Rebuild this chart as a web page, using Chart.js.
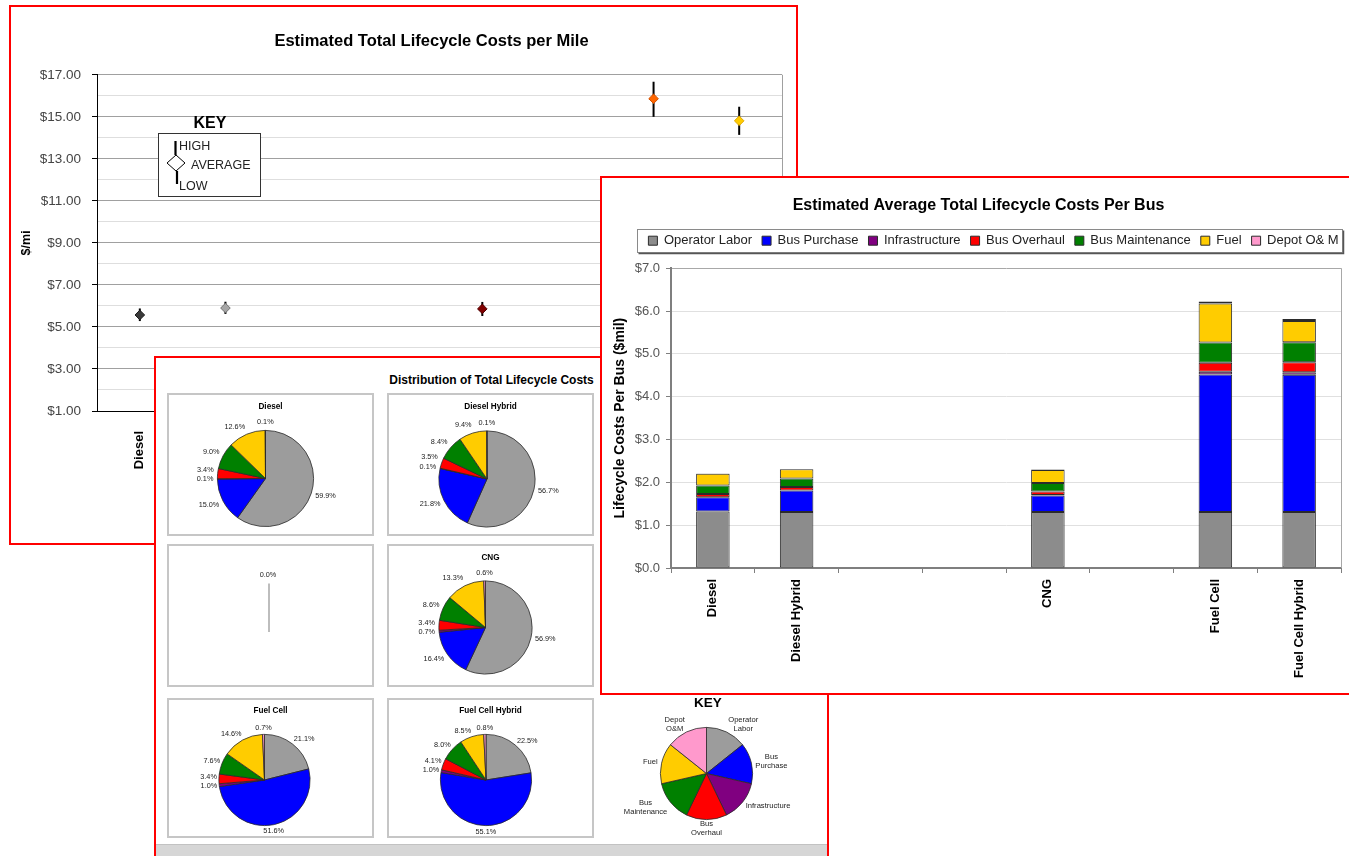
<!DOCTYPE html>
<html>
<head>
<meta charset="utf-8">
<title>Bus Lifecycle Costs</title>
<script src="https://cdn.jsdelivr.net/npm/chart.js@4.4.1/dist/chart.umd.min.js"></script>
<style>
  html, body { margin: 0; padding: 0; background: #fff; }
  body { position: relative; width: 1349px; height: 856px; overflow: hidden; font-family: "Liberation Sans", Arial, sans-serif; }
  .panel { position: absolute; box-sizing: border-box; border: 2px solid #ff0000; background: #fff; overflow: hidden; }
  .panel > canvas { position: absolute; }
  .pie-box { position: absolute; box-sizing: border-box; width: 207px; border: 2px solid #c6c6c6; background: #fff; }
  .pie-box canvas { position: absolute; left: 0; top: 0; }
  #distTitle { position: absolute; left: 0; top: 15px; width: 671px; text-align: center; font-weight: bold; font-size: 12px; line-height: 14px; color: #000; }
  #sheetBar { position: absolute; left: 0; top: 486px; width: 100%; height: 14px; background: #d6d6d6; border-top: 1px solid #c2c2c2; }
</style>
</head>
<body>

<div class="panel" style="left:9px; top:5px; width:789px; height:540px; z-index:1;">
  <canvas id="perMileChart" width="785" height="536" style="left:0; top:0;"></canvas>
</div>

<div class="panel" style="left:154px; top:356px; width:675px; height:510px; z-index:2;">
  <div id="distTitle">Distribution of Total Lifecycle Costs</div>
  <div class="pie-box" style="left:11px; top:35px; height:143px;"><canvas id="pieDiesel" width="203" height="139"></canvas></div>
  <div class="pie-box" style="left:231px; top:35px; height:143px;"><canvas id="pieDieselHybrid" width="203" height="139"></canvas></div>
  <div class="pie-box" style="left:11px; top:186px; height:143px;"><canvas id="pieEmpty" width="203" height="139"></canvas></div>
  <div class="pie-box" style="left:231px; top:186px; height:143px;"><canvas id="pieCNG" width="203" height="139"></canvas></div>
  <div class="pie-box" style="left:11px; top:340px; height:140px;"><canvas id="pieFuelCell" width="203" height="136"></canvas></div>
  <div class="pie-box" style="left:231px; top:340px; height:140px;"><canvas id="pieFuelCellHybrid" width="203" height="136"></canvas></div>
  <canvas id="pieKey" width="210" height="152" style="left:450px; top:334px;"></canvas>
  <div id="sheetBar"></div>
</div>

<div class="panel" style="left:600px; top:176px; width:780px; height:519px; z-index:3;">
  <canvas id="perBusChart" width="762" height="515" style="left:0; top:0;"></canvas>
</div>

<script>
// ---------- cost per mile ($/mi) ----------
const vehicleTypes    = ['Diesel', 'Diesel Hybrid', '', '', 'CNG', '', 'Fuel Cell', 'Fuel Cell Hybrid'];
const avgCostPerMile  = [5.57, 5.90, null, null, 5.86, null, 15.86, 14.81];
const highCostPerMile = [5.88, 6.20, null, null, 6.19, null, 16.67, 15.48];
const lowCostPerMile  = [5.28, 5.62, null, null, 5.52, null, 15.00, 14.14];
const perMileTickValues = [1, 3, 5, 7, 9, 11, 13, 15, 17];

// ---------- average lifecycle cost per bus ($ millions) ----------
const costComponents = ['Operator Labor', 'Bus Purchase', 'Infrastructure', 'Bus Overhaul', 'Bus Maintenance', 'Fuel', 'Depot O& M'];
const operatorLabor  = [1.32, 1.31, null, null, 1.31, null, 1.31, 1.31];
const busPurchase    = [0.33, 0.50, null, null, 0.38, null, 3.21, 3.20];
const infrastructure = [0.002, 0.002, null, null, 0.016, null, 0.062, 0.058];
const busOverhaul    = [0.075, 0.081, null, null, 0.078, null, 0.212, 0.238];
const busMaintenance = [0.198, 0.194, null, null, 0.198, null, 0.473, 0.465];
const fuelCost       = [0.277, 0.217, null, null, 0.306, null, 0.909, 0.494];
const depotOM        = [0.002, 0.002, null, null, 0.014, null, 0.044, 0.046];
const perBusTickMax  = 7;

// ---------- share of total lifecycle cost (%) ----------
const pieComponents       = ['Operator Labor', 'Bus Purchase', 'Infrastructure', 'Bus Overhaul', 'Bus Maintenance', 'Fuel', 'Depot O&M'];
const dieselShare         = [59.9, 15.0, 0.1, 3.4, 9.0, 12.6, 0.1];
const dieselHybridShare   = [56.7, 21.8, 0.1, 3.5, 8.4, 9.4, 0.1];
const unusedShare         = [0, 0, 0, 0, 0, 0, 0];
const cngShare            = [56.9, 16.4, 0.7, 3.4, 8.6, 13.3, 0.6];
const fuelCellShare       = [21.1, 51.6, 1.0, 3.4, 7.6, 14.6, 0.7];
const fuelCellHybridShare = [22.5, 55.1, 1.0, 4.1, 8.0, 8.5, 0.8];
const keyLabels = [['Operator', 'Labor'], ['Bus', 'Purchase'], ['Infrastructure'], ['Bus', 'Overhaul'], ['Bus', 'Maintenance'], ['Fuel'], ['Depot', 'O&M']];
const keyShare  = [1, 1, 1, 1, 1, 1, 1];

// ---------- styles ----------
const FONT = '"Liberation Sans", Arial, sans-serif';
Chart.defaults.font.family = FONT;
Chart.defaults.color = '#333';

const markerFill = ['#3a3a3a', '#a6a6a6', null, null, '#800000', null, '#ff6600', '#ffcc00'];
const markerEdge = ['#1a1a1a', '#707070', null, null, '#500000', null, '#d05000', '#e0a800'];
const barFill = ['#8c8c8c', '#0000ff', '#800080', '#ff0000', '#008000', '#ffcc00', '#ff99cc'];
const pieFill = ['#9c9c9c', '#0000ff', '#800080', '#ff0000', '#008000', '#ffcc00', '#ff99cc'];

// ---------- plugins ----------
// high/low whiskers drawn through the chart's own scales
const errorBars = {
  id: 'errorBars',
  beforeDatasetsDraw(chart) {
    const { ctx, scales: { x, y } } = chart;
    ctx.save();
    ctx.strokeStyle = '#000';
    ctx.lineWidth = 2;
    highCostPerMile.forEach((hi, i) => {
      if (hi == null) return;
      const px = x.getPixelForValue(i);
      ctx.beginPath();
      ctx.moveTo(px, y.getPixelForValue(hi));
      ctx.lineTo(px, y.getPixelForValue(lowCostPerMile[i]));
      ctx.stroke();
    });
    ctx.restore();
  }
};

// light frame on the right edge of the plot area
const plotFrame = {
  id: 'plotFrame',
  beforeDatasetsDraw(chart, args, opts) {
    const { ctx, chartArea: a } = chart;
    ctx.save();
    ctx.strokeStyle = opts.color || '#a0a0a0';
    ctx.lineWidth = 1;
    ctx.beginPath();
    ctx.moveTo(Math.round(a.right) + 0.5, a.top);
    ctx.lineTo(Math.round(a.right) + 0.5, a.bottom);
    ctx.stroke();
    ctx.restore();
  }
};

// shift the chart title horizontally by a number of pixels
const titleShift = {
  id: 'titleShift',
  afterLayout(chart, args, opts) {
    if (chart.titleBlock && opts.dx) chart.titleBlock.left += 2 * opts.dx;
  }
};

// "KEY" explanation box for the high / average / low markers
const rangeKey = {
  id: 'rangeKey',
  afterDraw(chart) {
    const ctx = chart.ctx;
    ctx.save();
    ctx.fillStyle = '#000';
    ctx.font = 'bold 16px ' + FONT;
    ctx.textAlign = 'center';
    ctx.textBaseline = 'middle';
    ctx.fillText('KEY', 199, 117);
    ctx.fillStyle = '#fff';
    ctx.fillRect(147, 126, 102, 63);
    ctx.strokeStyle = '#333';
    ctx.lineWidth = 1;
    ctx.strokeRect(147.5, 126.5, 102, 63);
    ctx.lineWidth = 2.2;
    ctx.strokeStyle = '#000';
    ctx.beginPath();
    ctx.moveTo(164.5, 134); ctx.lineTo(164.5, 148);
    ctx.moveTo(166, 164); ctx.lineTo(166, 177);
    ctx.stroke();
    ctx.lineWidth = 1;
    ctx.beginPath();
    ctx.moveTo(165, 148); ctx.lineTo(174, 156); ctx.lineTo(165, 164); ctx.lineTo(156, 156); ctx.closePath();
    ctx.fillStyle = '#fff';
    ctx.fill();
    ctx.stroke();
    ctx.fillStyle = '#222';
    ctx.font = '12.5px ' + FONT;
    ctx.textAlign = 'left';
    ctx.fillText('HIGH', 168, 140);
    ctx.fillText('AVERAGE', 180, 159);
    ctx.fillText('LOW', 168, 180);
    ctx.restore();
  }
};

// bordered legend with extra room below it, nudged sideways
const legendFrame = {
  id: 'legendFrame',
  beforeInit(chart) {
    const lg = chart.legend;
    if (!lg) return;
    const fit = lg.fit;
    lg.fit = function () { fit.call(this); this.height += 11; };
  },
  afterLayout(chart, args, opts) {
    if (chart.legend && opts.dx) {
      chart.legend.left += opts.dx;
      chart.legend.right += opts.dx;
    }
  },
  afterDraw(chart) {
    const hb = chart.legend && chart.legend.legendHitBoxes;
    if (!hb || !hb.length) return;
    const ctx = chart.ctx;
    const first = hb[0], last = hb[hb.length - 1];
    const cy = first.top + first.height / 2;
    const l = Math.round(first.left - 11) + 0.5;
    const r = Math.round(last.left + last.width + 3) + 0.5;
    const t = Math.round(cy - 11.5) + 0.5;
    const b = Math.round(cy + 11.5) + 0.5;
    ctx.save();
    ctx.strokeStyle = '#8a8a8a';
    ctx.lineWidth = 1;
    ctx.strokeRect(l, t, r - l, b - t);
    ctx.strokeStyle = '#555';
    ctx.lineWidth = 1.5;
    ctx.beginPath();
    ctx.moveTo(l + 1, b + 1); ctx.lineTo(r + 1, b + 1); ctx.lineTo(r + 1, t + 1);
    ctx.stroke();
    ctx.restore();
  }
};

// small bold caption at the top of each pie box
const boxTitle = {
  id: 'boxTitle',
  afterDraw(chart, args, opts) {
    if (!opts.text) return;
    const ctx = chart.ctx;
    ctx.save();
    ctx.font = 'bold ' + opts.size + 'px ' + FONT;
    ctx.fillStyle = '#000';
    ctx.textAlign = 'center';
    ctx.textBaseline = 'middle';
    ctx.fillText(opts.text, opts.x != null ? opts.x : chart.width / 2, opts.y);
    ctx.restore();
  }
};

// outside-end labels for pie slices
const sliceLabels = {
  id: 'sliceLabels',
  afterDatasetsDraw(chart, args, opts) {
    const ctx = chart.ctx;
    const values = chart.data.datasets[0].data;
    const total = values.reduce((a, b) => a + b, 0);
    const size = opts.size || 7.3;
    const lineH = size + 1.4;
    ctx.save();
    ctx.font = size + 'px ' + FONT;
    ctx.fillStyle = '#222';
    ctx.textBaseline = 'middle';
    ctx.textAlign = 'left';
    if (total === 0) {
      const a = chart.chartArea;
      const cx = (a.left + a.right) / 2, cy = (a.top + a.bottom) / 2;
      const r = Math.min(a.width, a.height) / 2;
      ctx.strokeStyle = '#bdbdbd';
      ctx.lineWidth = 2;
      ctx.beginPath();
      ctx.moveTo(cx, cy);
      ctx.lineTo(cx, cy - r);
      ctx.stroke();
      ctx.textAlign = 'center';
      ctx.fillText((0).toFixed(1) + '%', cx - 1, cy - r - 9);
      ctx.restore();
      return;
    }
    const placed = [];
    chart.getDatasetMeta(0).data.forEach((arc, i) => {
      const p = arc.getProps(['x', 'y', 'startAngle', 'endAngle', 'outerRadius'], true);
      const mid = (p.startAngle + p.endAngle) / 2;
      const c = Math.cos(mid), s = Math.sin(mid);
      const raw = opts.useNames ? chart.data.labels[i] : values[i].toFixed(1) + '%';
      const lines = Array.isArray(raw) ? raw : [raw];
      const w = Math.max(...lines.map(t => ctx.measureText(t).width));
      const h = lines.length * lineH;
      const gap = opts.gap || 4;
      const lift = opts.lift != null ? opts.lift : 1;
      const ax = p.x + (p.outerRadius + gap) * c;
      const ay = p.y + (p.outerRadius + gap) * s;
      const left = Math.abs(c) < 0.2 ? ax - w / 2 : (c > 0 ? ax : ax - w);
      const top = ay + lift * s * h / 2 - h / 2;
      const box = { l: left, r: left + w, t: top, b: top + h };
      const dir = c < 0 ? -1 : 1;
      for (let k = 0; k < 40 && placed.some(q => box.l < q.r && box.r > q.l && box.t < q.b && box.b > q.t); k++) {
        box.t += dir; box.b += dir;
      }
      placed.push(box);
      lines.forEach((t, k) => {
        const tw = ctx.measureText(t).width;
        ctx.fillText(t, box.l + (w - tw) / 2, box.t + lineH * (k + 0.5));
      });
    });
    ctx.restore();
  }
};

// ---------- chart 1: estimated total lifecycle costs per mile ----------
new Chart(document.getElementById('perMileChart'), {
  type: 'line',
  data: {
    labels: vehicleTypes,
    datasets: [{
      data: avgCostPerMile,
      showLine: false,
      pointStyle: 'rectRot',
      pointRadius: 4.8,
      pointHoverRadius: 4.8,
      pointBackgroundColor: markerFill,
      pointBorderColor: markerEdge,
      pointBorderWidth: 1
    }]
  },
  options: {
    responsive: false,
    animation: false,
    events: [],
    layout: { padding: { left: 0, right: 14, top: 0, bottom: 0 } },
    plugins: {
      legend: { display: false },
      tooltip: { enabled: false },
      title: {
        display: true,
        text: 'Estimated Total Lifecycle Costs per Mile',
        color: '#000',
        font: { size: 16.5, weight: 'bold' },
        padding: { top: 25, bottom: 23 }
      },
      titleShift: { dx: 35 },
      plotFrame: { color: '#a0a0a0' }
    },
    scales: {
      x: {
        offset: true,
        grid: { display: false },
        border: { color: '#000', width: 1 },
        ticks: { autoSkip: false, minRotation: 90, maxRotation: 90, padding: 12, color: '#000', font: { size: 13, weight: 'bold' } },
        afterFit(scale) { scale.height = 132; }
      },
      y: {
        min: 1,
        max: 17,
        ticks: {
          stepSize: 1,
          autoSkip: false,
          padding: 11,
          color: '#444',
          font: { size: 13.5 },
          callback: v => perMileTickValues.includes(v) ? '$' + v.toFixed(2) : ''
        },
        grid: {
          tickLength: 5,
          color: ctx => perMileTickValues.includes(ctx.tick.value) ? '#a0a0a0' : '#dedede',
          tickColor: ctx => perMileTickValues.includes(ctx.tick.value) ? '#000' : 'rgba(0,0,0,0)'
        },
        border: { color: '#000', width: 1 },
        title: { display: true, text: '$/mi', color: '#000', font: { size: 12.5, weight: 'bold' }, padding: { top: 8, bottom: 0 } },
        afterFit(scale) { scale.width = 86; }
      }
    }
  },
  plugins: [titleShift, plotFrame, errorBars, rangeKey]
});

// ---------- chart 2: estimated average total lifecycle costs per bus ----------
const perBusSeries = [operatorLabor, busPurchase, infrastructure, busOverhaul, busMaintenance, fuelCost, depotOM];
new Chart(document.getElementById('perBusChart'), {
  type: 'bar',
  data: {
    labels: vehicleTypes,
    datasets: costComponents.map((name, i) => ({
      label: name,
      data: perBusSeries[i],
      backgroundColor: barFill[i],
      borderColor: '#2b2b2b',
      borderWidth: 1,
      borderSkipped: false,
      barPercentage: 0.4,
      categoryPercentage: 1
    }))
  },
  options: {
    responsive: false,
    animation: false,
    events: [],
    layout: { padding: { left: 0, right: 23, top: 0, bottom: 0 } },
    plugins: {
      tooltip: { enabled: false },
      title: {
        display: true,
        text: 'Estimated Average Total Lifecycle Costs Per Bus',
        color: '#000',
        font: { size: 16, weight: 'bold' },
        padding: { top: 18, bottom: 9 }
      },
      titleShift: { dx: 7 },
      legend: {
        display: true,
        position: 'top',
        labels: { boxWidth: 9, boxHeight: 9, padding: 10, color: '#222', font: { size: 13 } }
      },
      legendFrame: { dx: 22 },
      plotFrame: { color: '#a8a8a8' }
    },
    scales: {
      x: {
        stacked: true,
        grid: { display: true, drawOnChartArea: false, offset: true, tickLength: 5, tickColor: '#7f7f7f' },
        border: { color: '#7f7f7f', width: 2 },
        ticks: { autoSkip: false, minRotation: 90, maxRotation: 90, padding: 6, color: '#000', font: { size: 13, weight: 'bold' } },
        afterFit(scale) { scale.height = 125; }
      },
      y: {
        stacked: true,
        min: 0,
        max: perBusTickMax,
        ticks: { stepSize: 1, padding: 6, color: '#555', font: { size: 13 }, callback: v => '$' + v.toFixed(1) },
        grid: {
          tickLength: 5,
          tickColor: '#7f7f7f',
          color: ctx => ctx.tick.value === perBusTickMax ? '#a8a8a8' : '#e0e0e0'
        },
        border: { color: '#7f7f7f', width: 2 },
        title: { display: true, text: 'Lifecycle Costs Per Bus ($mil)', color: '#000', font: { size: 14, weight: 'bold' }, padding: { top: 10, bottom: 0 } },
        afterFit(scale) { scale.width = 69; }
      }
    }
  },
  plugins: [titleShift, legendFrame, plotFrame]
});

// ---------- distribution pies ----------
function piePadding(cx, cy, r, w, h) {
  return { left: cx - r, right: w - cx - r, top: cy - r, bottom: h - cy - r };
}

function makePie(id, title, shares, labels, geom, labelOpts) {
  const canvas = document.getElementById(id);
  return new Chart(canvas, {
    type: 'pie',
    data: {
      labels: labels,
      datasets: [{ data: shares, backgroundColor: pieFill, borderColor: '#2a2a2a', borderWidth: 0.8 }]
    },
    options: {
      responsive: false,
      animation: false,
      events: [],
      layout: { padding: piePadding(geom.cx, geom.cy, geom.r, canvas.width, canvas.height) },
      plugins: {
        legend: { display: false },
        tooltip: { enabled: false },
        boxTitle: { text: title, size: geom.titleSize || 8.2, y: geom.titleY, x: geom.titleX },
        sliceLabels: labelOpts
      }
    },
    plugins: [sliceLabels, boxTitle]
  });
}

makePie('pieDiesel', 'Diesel', dieselShare, pieComponents, { cx: 96.5, cy: 83.5, r: 48.5, titleY: 12 }, { size: 7.3 });
makePie('pieDieselHybrid', 'Diesel Hybrid', dieselHybridShare, pieComponents, { cx: 98, cy: 84, r: 48.5, titleY: 12 }, { size: 7.3 });
makePie('pieEmpty', '', unusedShare, pieComponents, { cx: 100, cy: 86, r: 48.5, titleY: 12 }, { size: 7.3 });
makePie('pieCNG', 'CNG', cngShare, pieComponents, { cx: 96.5, cy: 81.5, r: 47, titleY: 12 }, { size: 7.3 });
makePie('pieFuelCell', 'Fuel Cell', fuelCellShare, pieComponents, { cx: 95.5, cy: 80, r: 46, titleY: 11 }, { size: 7.3, gap: 2 });
makePie('pieFuelCellHybrid', 'Fuel Cell Hybrid', fuelCellHybridShare, pieComponents, { cx: 97, cy: 80, r: 46, titleY: 11 }, { size: 7.3, gap: 2 });
makePie('pieKey', 'KEY', keyShare, keyLabels, { cx: 100.5, cy: 81.5, r: 46.5, titleY: 11, titleX: 102, titleSize: 13.5 }, { size: 7.6, useNames: true, gap: 4, lift: 0.5 });
</script>
</body>
</html>
